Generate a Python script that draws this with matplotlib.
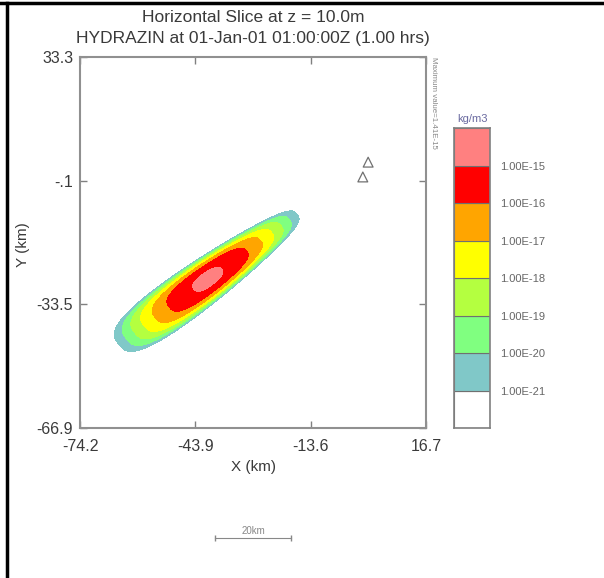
import numpy as np
import matplotlib.pyplot as plt

plt.rcParams['font.family'] = ['Liberation Sans', 'DejaVu Sans']

# Limites y ticks de los ejes (km)
x_ticks = [-74.2, -43.9, -13.6, 16.7]
y_ticks = [-66.9, -33.5, -0.1, 33.3]
x_tick_labels = ["-74.2", "-43.9", "-13.6", "16.7"]
y_tick_labels = ["-66.9", "-33.5", "-.1", "33.3"]

# Niveles de concentracion (log10 kg/m3) y colores
levels_log = [-21, -20, -19, -18, -17, -16, -15, -14]
fill_colors = ['#80c8c8', '#80ff80', '#b4ff40', '#ffff00', '#ffa500', '#ff0000', '#ff8080']
cbar_colors = ['#ffffff'] + fill_colors
cbar_labels = ["1.00E-21", "1.00E-20", "1.00E-19", "1.00E-18",
               "1.00E-17", "1.00E-16", "1.00E-15"]

# Parametros de la pluma
plume_center = (-40.6, -26.7)   # km
plume_angle = 36.8              # grados
plume_sigma_along = 5.5         # km
plume_width_across = 2.6        # km
plume_taper = 0.009             # por km
plume_peak = 1.41e-15           # kg/m3

# Marcadores (triangulos)
tri_x = [1.5, 0.1]
tri_y = [4.9, 0.9]

# Campo de concentracion
gx = np.arange(-75, 17, 0.5)
gy = np.arange(-67, 34, 0.5)
X, Y = np.meshgrid(gx, gy)
th = np.radians(plume_angle)
dx = X - plume_center[0]
dy = Y - plume_center[1]
u = dx * np.cos(th) + dy * np.sin(th)
v = -dx * np.sin(th) + dy * np.cos(th)
a = plume_width_across * np.clip(1 - plume_taper * u, 0.2, None)
lnratio = 0.5 * (u / plume_sigma_along) ** 2 + np.abs(v / a) ** 3.2
logC = np.log10(plume_peak) - lnratio / np.log(10)

fig = plt.figure(figsize=(6.04, 5.78), dpi=100)

# Marco negro de la imagen
fig.add_artist(plt.Line2D([0.0, 1.0], [0.994, 0.994], color='black', lw=2.5))
fig.add_artist(plt.Line2D([0.011, 0.011], [0.0, 0.995], color='black', lw=2.5))

ax = fig.add_axes([0.1325, 0.2595, 0.5728, 0.6419])
ax.contourf(X, Y, logC, levels=levels_log, colors=fill_colors)
ax.scatter(tri_x, tri_y, marker='^', s=50, facecolors='none', edgecolors='#707070', linewidths=0.9)
ax.set_xlim(x_ticks[0], x_ticks[-1])
ax.set_ylim(y_ticks[0], y_ticks[-1])
ax.set_xticks(x_ticks)
ax.set_xticklabels(x_tick_labels)
ax.set_yticks(y_ticks)
ax.set_yticklabels(y_tick_labels)
ax.tick_params(direction='in', length=5, color='#808080', labelcolor='#3a3a3a',
               labelsize=11.5, top=True, right=True, width=1)
ax.tick_params(axis='x', pad=8)
ax.tick_params(axis='y', pad=5)
for s in ax.spines.values():
    s.set_color('#909090')
    s.set_linewidth(1.5)
ax.set_xlabel("X (km)", fontsize=11, color='#3a3a3a', labelpad=4)
ax.set_ylabel("Y (km)", fontsize=11, color='#3a3a3a')
ax.yaxis.set_label_coords(-0.145, 0.493)

ax.text(0.5, 1.085, "Horizontal Slice at z = 10.0m", transform=ax.transAxes,
        ha='center', va='bottom', fontsize=12.5, color='#3a3a3a')
ax.text(0.5, 1.03, "HYDRAZIN at 01-Jan-01 01:00:00Z (1.00 hrs)", transform=ax.transAxes,
        ha='center', va='bottom', fontsize=12.5, color='#3a3a3a')
ax.text(1.012, 1.0, "Maximum value=1.41E-15", transform=ax.transAxes, rotation=-90,
        ha='left', va='top', fontsize=5.7, color='#888888')

# Barra de escala 20 km
sb_x0 = -38.7
sb_len = 20
sb_y = -96.6
ax.plot([sb_x0, sb_x0 + sb_len], [sb_y, sb_y], color='#888888', lw=0.8, clip_on=False,
        marker='|', markersize=4)
ax.text(sb_x0 + sb_len / 2, sb_y + 0.6, "20km", ha='center', va='bottom', fontsize=7,
        color='#888888', clip_on=False)

# Barra de colores
cax = fig.add_axes([0.7517, 0.2595, 0.0596, 0.519])
for i, c in enumerate(cbar_colors):
    cax.bar(0.5, 1, bottom=i, width=1, color=c, edgecolor='#707070', linewidth=0.8)
cax.set_xlim(0, 1)
cax.set_ylim(0, len(cbar_colors))
cax.set_xticks([])
cax.set_yticks(range(1, len(cbar_labels) + 1))
cax.set_yticklabels(cbar_labels)
cax.yaxis.tick_right()
cax.tick_params(length=0, labelsize=8, labelcolor='#666666', pad=7)
for s in cax.spines.values():
    s.set_color('#808080')
    s.set_linewidth(1.2)
cax.text(0.5, 1.015, "kg/m3", transform=cax.transAxes, ha='center', va='bottom',
         fontsize=8, color='#6a6aa0')

fig.savefig("out.png", dpi=100)
